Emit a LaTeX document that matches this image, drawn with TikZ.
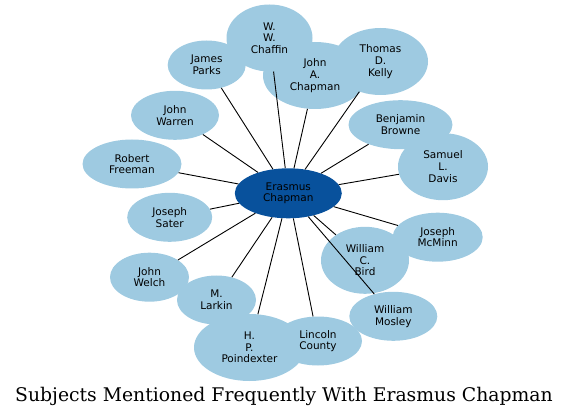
\documentclass[tikz,border=0pt]{standalone}
\usepackage{fontspec}
\setmainfont{DejaVu Sans}
\newfontfamily\titlefont{DejaVu Serif}
\usepackage{tikz}
\usetikzlibrary{shapes,positioning}
\definecolor{subjectblue}{HTML}{9ECAE1}
\definecolor{centreblue}{HTML}{08519C}

\begin{document}
\begin{tikzpicture}[
        x=1pt, y=-1pt,
        subject/.style={ellipse, fill=subjectblue, inner sep=0pt, align=center, font=\fontsize{10.5}{11.7}\selectfont},
        small/.style={subject, minimum width=#1, minimum height=49pt},
        tall/.style={subject, minimum width=#1, minimum height=67pt},
        centre/.style={subject, fill=centreblue, minimum width=107pt, minimum height=50pt},
        link/.style={line width=0.9pt}
    ]
    \useasboundingbox (0,0) rectangle (571,417);
    
    % Subjects, top
    \node[tall=104pt] (jachapman) at (315,75.5) {John\\A.\\Chapman};
    \node[tall=95pt] (kelly) at (380.5,61.5) {Thomas\\D.\\Kelly};
    \node[tall=86pt] (chaffin) at (269.5,38) {W.\\W.\\Chaffin};
    \node[small=78pt] (parks) at (206.7,65) {James\\Parks};
    \node[small=88pt] (warren) at (175,115.3) {John\\Warren};
    \node[small=104pt] (browne) at (400.5,124.7) {Benjamin\\Browne};
    
    % Subjects, middle
    \node[small=99pt] (freeman) at (132,164) {Robert\\Freeman};
    \node[tall=90pt] (davis) at (443,166.7) {Samuel\\L.\\Davis};
    \node[small=85pt] (sater) at (169.7,217.3) {Joseph\\Sater};
    \node[small=90pt] (mcminn) at (437.7,237.2) {Joseph\\McMinn};
    
    % Subjects, bottom
    \node[tall=88pt] (bird) at (365,260.3) {William\\C.\\Bird};
    \node[small=79pt] (welch) at (149.5,277.2) {John\\Welch};
    \node[small=79pt] (larkin) at (216.5,300) {M.\\Larkin};
    \node[small=88pt] (mosley) at (393.3,316.3) {William\\Mosley};
    \node[tall=111pt] (poindexter) at (249.5,347.5) {H.\\P.\\Poindexter};
    \node[small=88pt] (lincoln) at (318,341) {Lincoln\\County};
    
    % Centre
    \node[centre] (erasmus) at (288.3,193.3) {Erasmus\\Chapman};
    
    % Links
    \draw[link] (erasmus) -- (chaffin);
    \draw[link] (erasmus) -- (parks);
    \draw[link] (erasmus) -- (jachapman);
    \draw[link] (erasmus) -- (kelly);
    \draw[link] (erasmus) -- (warren);
    \draw[link] (erasmus) -- (browne);
    \draw[link] (erasmus) -- (freeman);
    \draw[link] (erasmus) -- (davis);
    \draw[link] (erasmus) -- (sater);
    \draw[link] (erasmus) -- (mcminn);
    \draw[link] (erasmus) -- (bird);
    \draw[link] (erasmus) -- (welch);
    \draw[link] (erasmus) -- (larkin);
    \draw[link] (erasmus) -- (mosley);
    \draw[link] (erasmus) -- (poindexter);
    \draw[link] (erasmus) -- (lincoln);
    
    % Caption
    \node[anchor=base] (caption) at (284,401) {\titlefont\fontsize{18.8}{22}\selectfont Subjects Mentioned Frequently With Erasmus Chapman};
    
\end{tikzpicture}
\end{document}
